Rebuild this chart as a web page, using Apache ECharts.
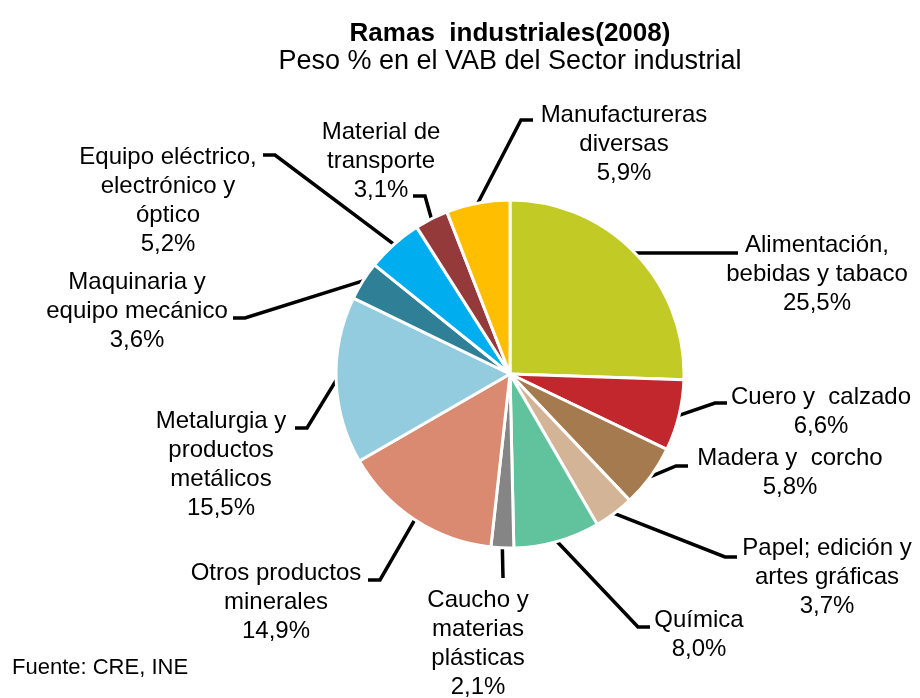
<!DOCTYPE html>
<html lang="es">
<head>
<meta charset="UTF-8">
<title>Ramas industriales (2008)</title>
<script src="https://cdn.jsdelivr.net/npm/echarts@6/dist/echarts.min.js"></script>
<style>html,body{margin:0;padding:0;background:#fff;}</style>
</head>
<body>
<div id="chart" style="width:920px;height:698px;"></div>
<script type="text/javascript">
var ramas = [
    'Alimentación,\nbebidas y tabaco',
    'Cuero y  calzado',
    'Madera y  corcho',
    'Papel; edición y\nartes gráficas',
    'Química',
    'Caucho y\nmaterias\nplásticas',
    'Otros productos\nminerales',
    'Metalurgia y\nproductos\nmetálicos',
    'Maquinaria y\nequipo mecánico',
    'Equipo eléctrico,\nelectrónico y\nóptico',
    'Material de\ntransporte',
    'Manufactureras\ndiversas'
];
var pesos = [25.5, 6.6, 5.8, 3.7, 8.0, 2.1, 14.9, 15.5, 3.6, 5.2, 3.1, 5.9];
var colores = ['#c2cb26', '#c1272d', '#a57a4e', '#d3b497', '#60c39d', '#858585',
               '#d98a70', '#93cbdf', '#2f7f97', '#00adef', '#943a3b', '#ffbf00'];

// posición de cada etiqueta: [centro x, arriba y, fin línea x, fin línea y, codo]
var etiquetas = [
    [817, 231, 738, 253, -12],
    [821, 383, 727, 403, -12],
    [790, 444, 688, 466, -12],
    [827, 534, 737, 557, -12],
    [699, 606, 650, 627, -12],
    [478, 586, 503, 578, 0],
    [276, 559, 368, 580, 12],
    [221, 407, 295, 428, 12],
    [137, 268, 233, 318, 12],
    [168, 143, 263, 155, 12],
    [381, 118, 413, 196, 12],
    [624, 101, 533, 120, -12]
];

var fuente = 'Liberation Sans, Arial, sans-serif';
var myChart = echarts.init(document.getElementById('chart'));

var datos = ramas.map(function (r, i) {
    return { name: r, value: pesos[i], itemStyle: { color: colores[i] } };
});

var option = {
    animation: false,
    backgroundColor: '#fff',
    graphic: [{
        type: 'text', x: 510, y: 34,
        style: { text: 'Ramas  industriales(2008)', fill: '#000', font: 'bold 26px ' + fuente,
                 textAlign: 'center', textVerticalAlign: 'middle' }
    }, {
        type: 'text', x: 510, y: 62,
        style: { text: 'Peso % en el VAB del Sector industrial', fill: '#000', font: '27px ' + fuente,
                 textAlign: 'center', textVerticalAlign: 'middle' }
    }, {
        type: 'text', x: 12, y: 668,
        style: { text: 'Fuente: CRE, INE', fill: '#000', font: '22px ' + fuente,
                 textAlign: 'left', textVerticalAlign: 'middle' }
    }],
    series: [{
        type: 'pie',
        center: [510, 374],
        radius: 174,
        startAngle: 90,
        clockwise: true,
        avoidLabelOverlap: false,
        emphasis: { disabled: true },
        itemStyle: { borderColor: '#fff', borderWidth: 3 },
        label: {
            show: true,
            position: 'outside',
            color: '#000',
            fontFamily: fuente,
            fontSize: 24,
            lineHeight: 29,
            align: 'center',
            formatter: function (p) {
                return p.name + '\n' + p.value.toFixed(1).replace('.', ',') + '%';
            }
        },
        labelLine: {
            show: true,
            length: 20,
            length2: 12,
            lineStyle: { color: '#000', width: 3.5 }
        },
        labelLayout: function (params) {
            var s = etiquetas[params.dataIndex];
            var p0 = params.labelLinePoints[0];
            return {
                x: s[0],
                y: s[1],
                align: 'center',
                verticalAlign: 'top',
                labelLinePoints: [p0, [s[2] + s[4], s[3]], [s[2], s[3]]]
            };
        },
        data: datos
    }]
};
myChart.setOption(option);
</script>
</body>
</html>
